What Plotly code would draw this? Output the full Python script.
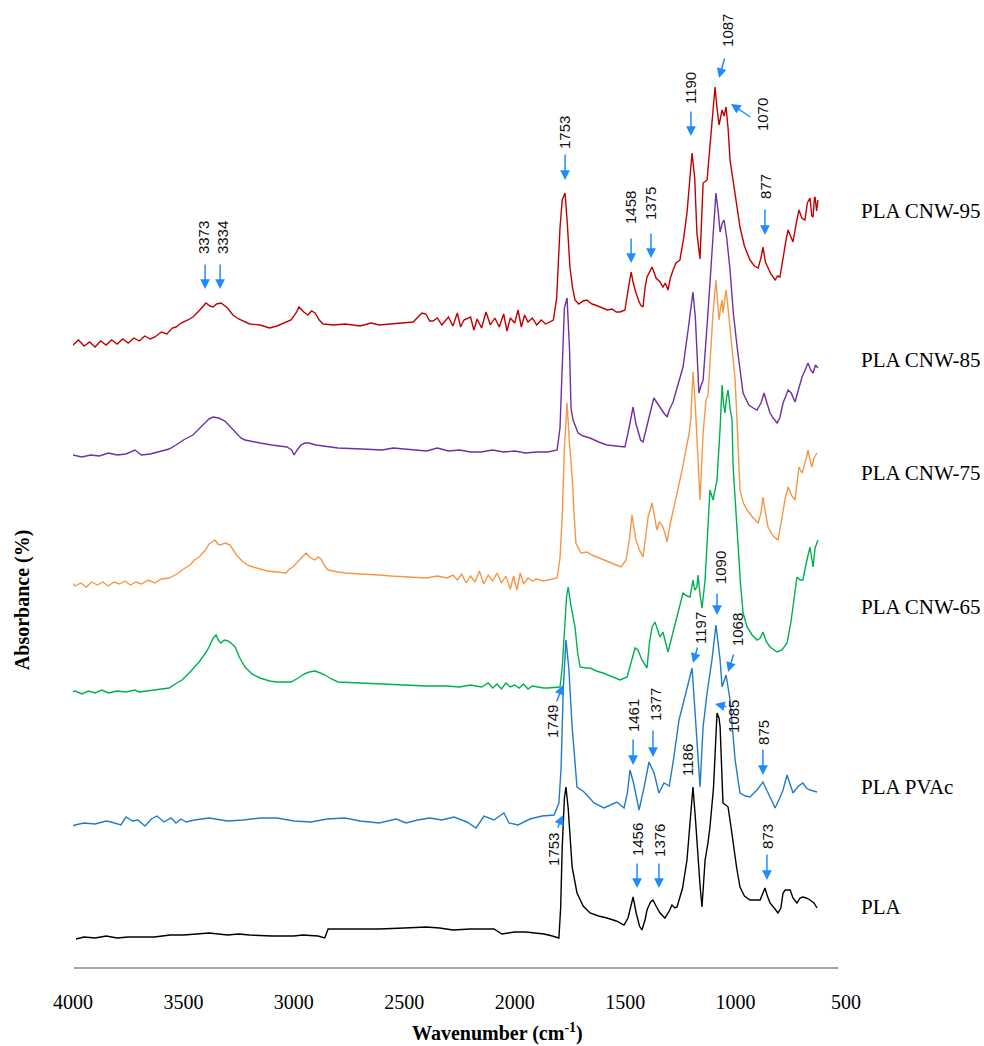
import plotly.graph_objects as go

# ---- spectra: (wavenumber cm-1, stacked absorbance, arbitrary units) ----
PLA_CNW95 = [(4068,626),(4045,622),(4025,627),(4000,623),(3975,628),(3950,622),(3925,626),(3900,621),(3875,627),(3850,623),(3825,628),(3800,624),(3775,629),(3750,625),(3725,630),(3700,627),(3675,632),(3650,629),(3629,631),(3600,636),(3575,634),(3550,640),(3534,641),(3510,645),(3480,648),(3457,651),(3430,657),(3410,662),(3398,665),(3380,662),(3366,661),(3350,664),(3330,665),(3300,660),(3276,653),(3250,649),(3230,647),(3200,644),(3153,643),(3110,640),(3076,642),(3040,645),(3013,648),(2990,655),(2977,661),(2955,656),(2936,653),(2920,657),(2904,655),(2885,648),(2868,644),(2820,643),(2768,644),(2700,642),(2650,645),(2614,643),(2560,644),(2500,645),(2460,646),(2420,655),(2402,654),(2385,647),(2370,647),(2350,650),(2330,643),(2300,651),(2280,642),(2260,655),(2245,641),(2230,648),(2200,651),(2185,638),(2170,649),(2150,640),(2130,656),(2110,643),(2090,650),(2070,641),(2050,654),(2035,637),(2020,650),(2000,645),(1985,658),(1970,641),(1955,653),(1940,646),(1920,650),(1900,643),(1880,648),(1860,644),(1845,646),(1825,648),(1810,670),(1795,740),(1785,768),(1772,775),(1762,745),(1750,701),(1738,680),(1727,668),(1710,664),(1690,667),(1673,668),(1650,664),(1636,663),(1615,661),(1600,660),(1580,658),(1560,659),(1540,656),(1523,656),(1501,658),(1485,680),(1473,696),(1464,686),(1455,678),(1440,668),(1430,663),(1419,661),(1410,680),(1401,691),(1378,701),(1360,690),(1342,686),(1329,681),(1318,685),(1306,678),(1295,690),(1283,698),(1270,705),(1252,708),(1235,730),(1220,755),(1208,790),(1197,815),(1185,790),(1175,735),(1161,709),(1147,785),(1129,788),(1118,815),(1107,841),(1093,881),(1084,860),(1075,843),(1061,858),(1052,852),(1043,861),(1034,840),(1025,808),(1000,770),(980,741),(960,722),(935,708),(915,702),(898,700),(885,710),(876,721),(865,706),(853,701),(840,694),(821,688),(810,692),(799,691),(785,712),(770,730),(762,738),(750,731),(740,726),(725,745),(713,758),(700,750),(686,748),(675,765),(663,770),(655,752),(649,751),(643,770),(640,771),(633,757),(627,768)]

PLA_CNW85 = [(4040,511),(4000,513),(3960,511),(3920,513),(3880,512),(3840,515),(3800,513),(3760,514),(3720,518),(3690,513),(3650,514),(3600,517),(3565,519),(3534,523),(3500,528),(3457,533),(3430,539),(3411,543),(3385,549),(3366,551),(3340,550),(3312,547),(3290,542),(3266,536),(3240,530),(3221,528),(3180,526),(3153,525),(3100,523),(3031,521),(3010,518),(2999,513),(2985,518),(2968,523),(2950,525),(2932,525),(2900,523),(2846,521),(2800,520),(2692,519),(2600,518),(2550,520),(2460,518),(2400,517),(2350,520),(2300,517),(2250,518),(2200,516),(2152,516),(2100,518),(2050,516),(2000,517),(1950,515),(1900,516),(1850,516),(1808,518),(1795,540),(1785,600),(1775,660),(1763,670),(1752,620),(1745,560),(1736,548),(1713,535),(1690,532),(1659,530),(1620,526),(1582,523),(1540,522),(1501,521),(1487,535),(1464,561),(1452,545),(1442,538),(1430,528),(1419,526),(1405,540),(1387,555),(1370,570),(1356,565),(1342,561),(1325,555),(1310,551),(1300,558),(1283,566),(1260,585),(1238,601),(1215,638),(1193,676),(1182,650),(1175,621),(1166,575),(1157,582),(1147,588),(1125,655),(1107,721),(1089,775),(1078,755),(1070,736),(1060,745),(1052,748),(1040,730),(1025,698),(1010,655),(993,621),(966,575),(940,563),(920,560),(903,558),(885,565),(871,575),(858,565),(844,555),(830,550),(812,545),(800,550),(785,565),(762,578),(748,575),(731,566),(715,580),(699,591),(685,598),(672,605),(660,598),(649,595),(638,603),(627,600)]

PLA_CNW75 = [(4036,383),(4010,386),(3990,382),(3965,385),(3940,381),(3915,386),(3890,383),(3865,386),(3840,382),(3815,386),(3790,384),(3765,387),(3740,383),(3715,386),(3690,384),(3660,388),(3630,385),(3600,389),(3565,390),(3530,394),(3506,398),(3470,403),(3450,408),(3429,411),(3400,418),(3384,424),(3370,426),(3357,428),(3345,424),(3334,423),(3310,425),(3289,423),(3260,413),(3230,406),(3200,402),(3167,400),(3120,397),(3076,396),(3036,395),(3020,399),(3004,401),(2975,408),(2960,412),(2945,415),(2925,410),(2904,408),(2890,411),(2877,409),(2860,402),(2845,398),(2800,396),(2768,395),(2700,394),(2650,393),(2614,393),(2560,392),(2500,391),(2460,391),(2400,390),(2350,392),(2307,390),(2280,393),(2260,388),(2240,394),(2220,385),(2200,392),(2180,386),(2160,397),(2140,384),(2120,393),(2100,387),(2080,395),(2060,385),(2040,392),(2020,379),(2005,392),(1990,378),(1975,395),(1960,384),(1940,390),(1920,387),(1900,389),(1870,387),(1849,388),(1808,390),(1795,410),(1785,450),(1775,520),(1763,565),(1752,525),(1740,491),(1730,450),(1723,425),(1700,415),(1673,416),(1650,413),(1627,411),(1600,409),(1573,406),(1540,403),(1518,401),(1496,408),(1480,430),(1469,453),(1460,440),(1451,428),(1435,418),(1419,411),(1405,435),(1396,451),(1378,465),(1366,450),(1356,438),(1345,446),(1333,443),(1320,435),(1310,426),(1295,445),(1279,461),(1256,481),(1240,500),(1225,518),(1210,535),(1202,551),(1193,596),(1184,570),(1175,535),(1161,468),(1147,535),(1134,568),(1125,572),(1112,620),(1102,655),(1089,688),(1082,665),(1075,648),(1068,660),(1061,668),(1057,655),(1050,665),(1043,678),(1034,660),(1025,641),(1015,615),(1002,588),(990,530),(980,478),(965,465),(948,458),(920,450),(898,445),(885,455),(876,471),(865,455),(853,441),(830,432),(808,428),(790,450),(775,470),(762,481),(745,472),(731,468),(713,501),(700,495),(694,498),(680,510),(672,518),(660,505),(654,501),(645,510),(631,515)]

PLA_CNW65 = [(4014,275),(3990,277),(3960,274),(3930,277),(3900,275),(3870,278),(3840,275),(3800,277),(3760,276),(3720,278),(3700,276),(3670,277),(3640,278),(3600,279),(3565,280),(3530,285),(3506,288),(3470,296),(3450,301),(3429,306),(3400,315),(3384,321),(3365,330),(3352,333),(3340,327),(3330,325),(3315,328),(3298,327),(3280,324),(3266,321),(3245,310),(3221,301),(3190,294),(3153,290),(3110,287),(3076,286),(3040,286),(3013,286),(2980,290),(2954,294),(2930,296),(2904,297),(2880,295),(2859,293),(2830,289),(2800,286),(2700,285),(2614,284),(2500,283),(2400,282),(2307,282),(2250,281),(2200,283),(2150,281),(2120,285),(2100,280),(2080,284),(2060,279),(2040,285),(2020,281),(2000,283),(1980,280),(1960,284),(1940,279),(1920,282),(1900,281),(1870,280),(1849,280),(1795,281),(1785,300),(1775,340),(1765,372),(1758,381),(1745,362),(1727,341),(1715,315),(1704,301),(1680,300),(1659,300),(1630,297),(1600,295),(1560,291),(1523,288),(1491,291),(1480,300),(1469,311),(1455,320),(1442,318),(1424,308),(1401,300),(1390,325),(1378,341),(1365,346),(1342,331),(1329,336),(1306,316),(1283,335),(1261,355),(1238,375),(1220,372),(1206,371),(1193,388),(1185,378),(1175,381),(1170,393),(1160,372),(1152,360),(1138,388),(1125,440),(1116,478),(1102,468),(1084,488),(1070,540),(1061,583),(1055,565),(1048,555),(1041,570),(1034,578),(1025,560),(1016,548),(1011,501),(1000,460),(989,418),(978,385),(966,355),(948,341),(925,333),(903,328),(888,330),(876,336),(860,326),(844,321),(812,316),(790,318),(767,325),(750,345),(740,361),(722,391),(708,388),(695,388),(680,405),(663,421),(649,401),(640,420),(627,428)]

PLA_PVAC = [(4014,141),(3990,143),(3951,145),(3900,144),(3850,147),(3828,146),(3783,143),(3760,151),(3730,147),(3706,148),(3674,142),(3645,149),(3620,152),(3588,146),(3556,150),(3534,145),(3511,149),(3488,146),(3450,148),(3384,150),(3300,147),(3230,148),(3150,150),(3076,150),(3000,147),(2923,146),(2850,149),(2768,150),(2700,147),(2614,145),(2537,149),(2492,145),(2440,148),(2384,150),(2330,148),(2275,151),(2216,146),(2175,140),(2139,152),(2094,148),(2049,155),(2026,145),(1985,143),(1931,149),(1876,152),(1822,153),(1800,165),(1790,200),(1780,280),(1768,328),(1755,300),(1740,241),(1718,181),(1686,176),(1641,165),(1596,160),(1537,166),(1505,160),(1490,175),(1478,198),(1462,185),(1437,158),(1414,181),(1392,206),(1369,195),(1347,175),(1324,185),(1300,182),(1280,210),(1256,248),(1225,275),(1197,300),(1179,241),(1161,181),(1147,241),(1129,275),(1107,308),(1089,343),(1070,308),(1061,281),(1043,293),(1025,268),(1002,208),(980,175),(955,172),(935,171),(903,178),(876,186),(844,171),(821,160),(800,170),(785,178),(767,193),(740,175),(715,182),(695,185),(680,180),(663,178),(631,176)]

PLA = [(3986,29),(3950,31),(3900,30),(3850,32),(3800,30),(3750,31),(3700,31),(3632,31),(3560,33),(3500,33),(3440,34),(3384,35),(3300,33),(3250,34),(3200,33),(3100,32),(3000,32),(2960,33),(2891,32),(2860,30),(2845,39),(2750,39),(2614,39),(2500,40),(2400,41),(2340,40),(2280,38),(2200,39),(2094,39),(2058,34),(2000,36),(1950,36),(1900,35),(1867,34),(1830,32),(1800,30),(1792,60),(1785,120),(1775,170),(1768,181),(1758,160),(1748,120),(1740,101),(1718,75),(1690,62),(1659,55),(1620,52),(1582,50),(1540,47),(1505,43),(1487,50),(1464,71),(1450,55),(1435,42),(1424,38),(1410,48),(1401,58),(1385,66),(1374,68),(1360,62),(1342,55),(1320,50),(1300,57),(1288,63),(1275,60),(1265,61),(1240,80),(1220,108),(1205,150),(1193,181),(1182,150),(1170,108),(1160,80),(1152,61),(1138,108),(1125,125),(1116,141),(1100,180),(1090,230),(1084,255),(1075,250),(1070,241),(1063,200),(1057,165),(1045,163),(1034,161),(1020,140),(1011,125),(995,100),(980,81),(960,72),(935,68),(910,68),(889,68),(876,75),(867,80),(856,72),(844,65),(825,60),(808,55),(795,60),(785,75),(775,78),(753,78),(740,70),(722,65),(708,70),(695,71),(680,70),(663,68),(645,65),(631,60)]

SERIES_NAMES = ["PLA CNW-95", "PLA CNW-85", "PLA CNW-75", "PLA CNW-65", "PLA PVAc", "PLA"]
SERIES_DATA = [PLA_CNW95, PLA_CNW85, PLA_CNW75, PLA_CNW65, PLA_PVAC, PLA]
SERIES_COLORS = ["#C00000", "#7030A0", "#F79646", "#00B050", "#1F7CC8", "#000000"]
SERIES_LABEL_Y = [757, 608, 495, 361, 181, 61]

X_TICKS = [4000, 3500, 3000, 2500, 2000, 1500, 1000, 500]

# peak labels: text, arrow tip (wn, y), arrow tail offset px (ax, ay) or None, text centre (wn, y)
PEAKS = [
    ("3373", 3402, 679, 0, -26, 3411, 730),
    ("3334", 3334, 679, 0, -26, 3325, 730),
    ("1753", 1772, 788, 0, -27, 1777, 836),
    ("1458", 1473, 705, 0, -26, 1478, 760),
    ("1375", 1383, 710, 0, -26, 1387, 764),
    ("1190", 1202, 832, 0, -26, 1206, 880),
    ("1087", 1075, 890, 6, -21, 1039, 938),
    ("1070", 1021, 864, 21, 14, 880, 853),
    ("877", 867, 733, 0, -27, 867, 782),
    ("1749", 1781, 283, -7, 18, 1831, 246),
    ("1753", 1781, 153, -6, 14, 1827, 119),
    ("1461", 1464, 203, 0, -27, 1464, 252),
    ("1377", 1374, 211, 0, -28, 1365, 264),
    ("1197", 1193, 305, 5, -17, 1161, 340),
    ("1090", 1084, 353, 0, -23, 1070, 400),
    ("1068", 1034, 296, 6, -19, 993, 338),
    ("1085", 1093, 264, 13, 3, 1012, 252),
    ("1186", None, None, None, None, 1220, 208),
    ("875", 876, 193, 0, -27, 876, 236),
    ("1456", 1446, 80, 0, -26, 1446, 128),
    ("1376", 1347, 80, 0, -26, 1347, 128),
    ("873", 858, 88, 0, -27, 858, 132),
]

ARROW_COLOR = "#1E8CFF"
SERIF = "Liberation Serif"

fig = go.Figure()
for name, data, color in zip(SERIES_NAMES, SERIES_DATA, SERIES_COLORS):
    fig.add_trace(go.Scatter(
        x=[p[0] for p in data], y=[p[1] for p in data], mode="lines",
        line=dict(color=color, width=1.4), name=name, showlegend=False,
        hoverinfo="skip"))

annotations = []
for name, ly in zip(SERIES_NAMES, SERIES_LABEL_Y):
    annotations.append(dict(
        x=1.0165, xref="paper", y=ly, yref="y", text=name, showarrow=False,
        xanchor="left", yanchor="middle",
        font=dict(family=SERIF, size=21, color="#000000")))

for text, tw, ty, ax, ay, lw, lyv in PEAKS:
    if tw is not None:
        annotations.append(dict(
            x=tw, y=ty, xref="x", yref="y", ax=ax, ay=ay, text="",
            showarrow=True, arrowhead=2, arrowsize=1.3, arrowwidth=1.5,
            arrowcolor=ARROW_COLOR, standoff=0, startstandoff=0))
    annotations.append(dict(
        x=lw, y=lyv, xref="x", yref="y", text=text, showarrow=False,
        textangle=-90, xanchor="center", yanchor="middle",
        font=dict(family="Liberation Sans", size=15, color="#111111")))

annotations.append(dict(
    x=0.549, xref="paper", y=0, yref="paper", yshift=-64,
    text="<b>Wavenumber (cm<sup>-1</sup>)</b>", showarrow=False,
    xanchor="center", yanchor="middle",
    font=dict(family=SERIF, size=20, color="#000000")))
annotations.append(dict(
    x=0, xref="paper", xshift=-51, y=0.384, yref="paper",
    text="<b>Absorbance (%)</b>", showarrow=False, textangle=-90,
    xanchor="center", yanchor="middle",
    font=dict(family=SERIF, size=20, color="#000000")))

fig.update_layout(
    width=984, height=1046,
    margin=dict(l=73, r=138, t=10, b=78),
    paper_bgcolor="white", plot_bgcolor="white",
    xaxis=dict(range=[4000, 500], tickvals=X_TICKS,
               ticktext=[str(v) for v in X_TICKS],
               showgrid=False, zeroline=False, showline=False, ticks="",
               ticklabelstandoff=20,
               tickfont=dict(family=SERIF, size=20, color="#000000")),
    yaxis=dict(range=[0, 958], showgrid=False, zeroline=False,
               showline=False, showticklabels=False, ticks=""),
    annotations=annotations,
    shapes=[dict(type="line", xref="paper", yref="paper", x0=0.001, x1=0.99,
                 y0=0, y1=0, line=dict(color="#A6A6A6", width=2))],
)

fig.write_html("out.html", config={"displayModeBar": False},
               post_script="document.body.style.margin='0';")
